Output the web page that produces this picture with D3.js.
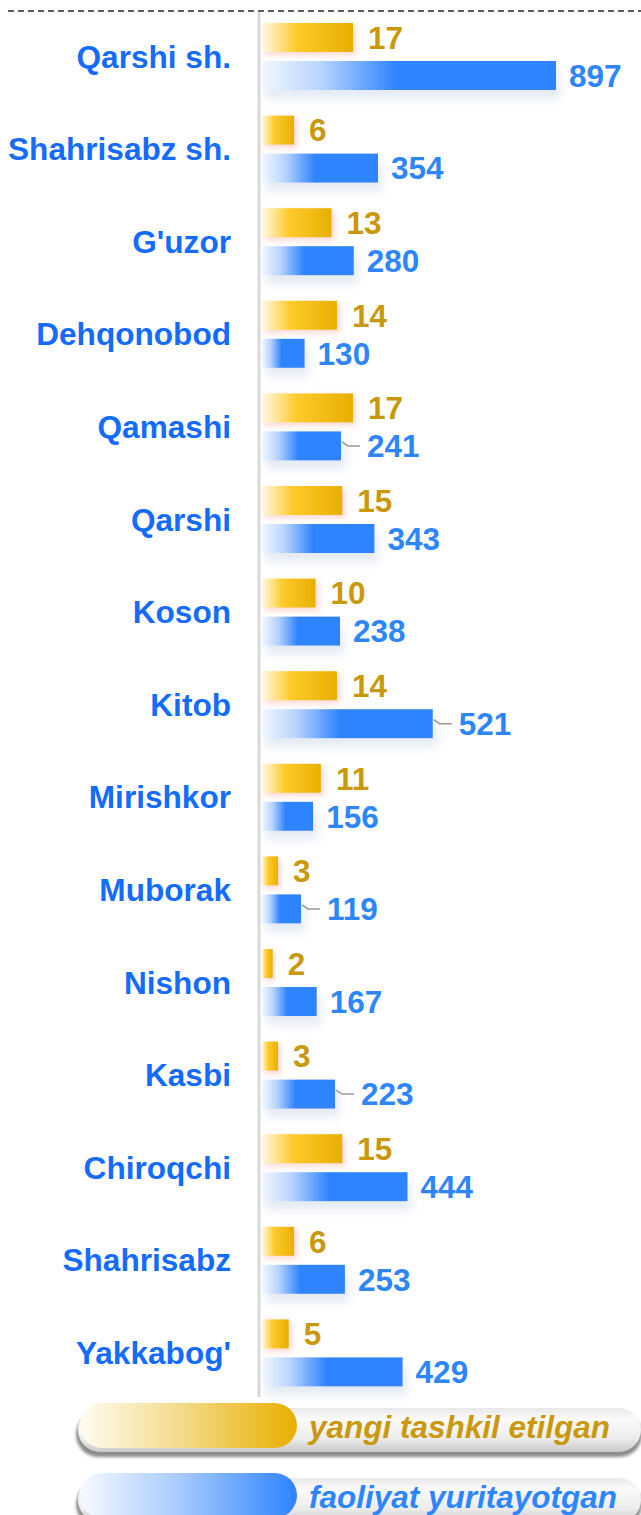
<!DOCTYPE html>
<html>
<head>
<meta charset="utf-8">
<script src="https://cdn.jsdelivr.net/npm/d3@7/dist/d3.min.js"></script>
<style>
  html, body { margin: 0; padding: 0; background: #ffffff; }
  svg { display: block; }
  text { font-family: "Liberation Sans", Arial, sans-serif; font-weight: bold; }
</style>
</head>
<body>
<svg id="chart" width="641" height="1515"></svg>
<script>
// Districts of the region, top to bottom
const categories = [
  "Qarshi sh.", "Shahrisabz sh.", "G'uzor", "Dehqonobod", "Qamashi",
  "Qarshi", "Koson", "Kitob", "Mirishkor", "Muborak",
  "Nishon", "Kasbi", "Chiroqchi", "Shahrisabz", "Yakkabog'"
];

// Newly established
const newValues = [17, 6, 13, 14, 17, 15, 10, 14, 11, 3, 2, 3, 15, 6, 5];

// Currently operating
const activeValues = [897, 354, 280, 130, 241, 343, 238, 521, 156, 119, 167, 223, 444, 253, 429];

// Series names shown in the legend
const seriesNames = ["yangi tashkil etilgan", "faoliyat yuritayotgan"];

// Rows whose value label sits further out, joined by a short leader line
const leaderRows = new Set(["Qamashi", "Kitob", "Muborak", "Kasbi"]);

const rows = categories.map((c, i) => ({ name: c, newV: newValues[i], activeV: activeValues[i] }));

const svg = d3.select("#chart");
const defs = svg.append("defs");

// Horizontal gradients for the two bar kinds
const gYellow = defs.append("linearGradient").attr("id", "gYellow")
  .attr("x1", 0).attr("x2", 1).attr("y1", 0).attr("y2", 0);
gYellow.append("stop").attr("offset", 0).attr("stop-color", "#fff9e6");
gYellow.append("stop").attr("offset", 0.38).attr("stop-color", "#fecb2c");
gYellow.append("stop").attr("offset", 1).attr("stop-color", "#e8af00");

const gBlue = defs.append("linearGradient").attr("id", "gBlue")
  .attr("x1", 0).attr("x2", 1).attr("y1", 0).attr("y2", 0);
gBlue.append("stop").attr("offset", 0).attr("stop-color", "#f2f7ff");
gBlue.append("stop").attr("offset", 0.2).attr("stop-color", "#b8d4ff");
gBlue.append("stop").attr("offset", 0.46).attr("stop-color", "#2e83ff");
gBlue.append("stop").attr("offset", 1).attr("stop-color", "#2e83ff");

// Legend swatch gradients
const lgYellow = defs.append("linearGradient").attr("id", "lgYellow")
  .attr("x1", 0).attr("x2", 1).attr("y1", 0).attr("y2", 0);
lgYellow.append("stop").attr("offset", 0).attr("stop-color", "#fffcf2");
lgYellow.append("stop").attr("offset", 0.45).attr("stop-color", "#f3dc8e");
lgYellow.append("stop").attr("offset", 1).attr("stop-color", "#e8af00");

const lgBlue = defs.append("linearGradient").attr("id", "lgBlue")
  .attr("x1", 0).attr("x2", 1).attr("y1", 0).attr("y2", 0);
lgBlue.append("stop").attr("offset", 0).attr("stop-color", "#f6faff");
lgBlue.append("stop").attr("offset", 0.45).attr("stop-color", "#a9cbff");
lgBlue.append("stop").attr("offset", 1).attr("stop-color", "#2e83ff");

const lgGrey = defs.append("linearGradient").attr("id", "lgGrey")
  .attr("x1", 0).attr("x2", 0).attr("y1", 0).attr("y2", 1);
lgGrey.append("stop").attr("offset", 0).attr("stop-color", "#e8e8e8");
lgGrey.append("stop").attr("offset", 0.25).attr("stop-color", "#fbfbfb");
lgGrey.append("stop").attr("offset", 0.7).attr("stop-color", "#ececec");
lgGrey.append("stop").attr("offset", 1).attr("stop-color", "#c8c8c8");

// Soft shadows under the bars
const fYellow = defs.append("filter").attr("id", "fYellow")
  .attr("x", "-20%").attr("y", "-40%").attr("width", "150%").attr("height", "200%");
fYellow.append("feDropShadow").attr("dx", 3).attr("dy", 3).attr("stdDeviation", 3)
  .attr("flood-color", "#f09a88").attr("flood-opacity", 0.4);

const fBlue = defs.append("filter").attr("id", "fBlue")
  .attr("x", "-20%").attr("y", "-40%").attr("width", "150%").attr("height", "220%");
fBlue.append("feDropShadow").attr("dx", 4).attr("dy", 9).attr("stdDeviation", 5)
  .attr("flood-color", "#b4c6e2").attr("flood-opacity", 0.35);

const fPill = defs.append("filter").attr("id", "fPill")
  .attr("x", "-10%").attr("y", "-30%").attr("width", "120%").attr("height", "170%");
fPill.append("feGaussianBlur").attr("stdDeviation", 1.4);

// Scales
const x0 = 262;
const y = d3.scaleBand().domain(categories).range([18, 18 + categories.length * 92.6]);
const inner = d3.scaleBand().domain(["new", "active"]).range([5, 72]).paddingInner(0.237);
const xNew = d3.scaleLinear().domain([0, d3.max(newValues)]).range([0, 91]);
const xActive = d3.scaleLinear().domain([0, d3.max(activeValues)]).range([0, 294]);

// Dashed rule along the top
svg.append("line")
  .attr("x1", 8).attr("x2", 641).attr("y1", 11).attr("y2", 11)
  .attr("stroke", "#2a2a2a").attr("stroke-width", 1.5)
  .attr("stroke-dasharray", "6 4");

// Vertical baseline
svg.append("line")
  .attr("x1", 259).attr("x2", 259).attr("y1", 12).attr("y2", 1397)
  .attr("stroke", "#d9d9d9").attr("stroke-width", 3);

const row = svg.selectAll("g.row").data(rows).join("g")
  .attr("class", "row")
  .attr("transform", d => `translate(0,${y(d.name)})`);

// Category labels
row.append("text")
  .attr("x", 231)
  .attr("y", (inner("new") + inner("active") + inner.bandwidth()) / 2)
  .attr("dy", "0.35em")
  .attr("text-anchor", "end")
  .attr("font-size", 31.6)
  .attr("fill", "#146cff")
  .text(d => d.name);

// Newly established bars
row.append("rect")
  .attr("x", x0)
  .attr("y", inner("new"))
  .attr("width", d => xNew(d.newV))
  .attr("height", inner.bandwidth())
  .attr("fill", "url(#gYellow)")
  .attr("filter", "url(#fYellow)");

row.append("text")
  .attr("x", d => x0 + xNew(d.newV) + 15)
  .attr("y", inner("new") + inner.bandwidth() / 2)
  .attr("dy", "0.36em")
  .attr("font-size", 31.5)
  .attr("fill", "#c9980b")
  .text(d => d.newV);

// Operating bars
row.append("rect")
  .attr("x", x0)
  .attr("y", inner("active"))
  .attr("width", d => xActive(d.activeV))
  .attr("height", inner.bandwidth())
  .attr("fill", "url(#gBlue)")
  .attr("filter", "url(#fBlue)");

// Leader lines for the labels set further out
row.filter(d => leaderRows.has(d.name)).append("path")
  .attr("d", d => {
    const ex = x0 + xActive(d.activeV);
    const cy = inner("active") + inner.bandwidth() / 2;
    return `M${ex + 1},${cy - 4} L${ex + 7},${cy} L${ex + 19},${cy}`;
  })
  .attr("fill", "none")
  .attr("stroke", "#9a9a9a")
  .attr("stroke-width", 1.5);

row.append("text")
  .attr("x", d => x0 + xActive(d.activeV) + (leaderRows.has(d.name) ? 26 : 13))
  .attr("y", inner("active") + inner.bandwidth() / 2)
  .attr("dy", "0.36em")
  .attr("font-size", 31.5)
  .attr("fill", "#2e86ff")
  .text(d => d.activeV);

// Legend
const legendItems = [
  { name: seriesNames[0], top: 1403, fill: "url(#lgYellow)", color: "#c9980b" },
  { name: seriesNames[1], top: 1473, fill: "url(#lgBlue)", color: "#2e86ff" }
];

const leg = svg.selectAll("g.legend").data(legendItems).join("g")
  .attr("class", "legend")
  .attr("transform", d => `translate(0,${d.top})`);

leg.append("rect")
  .attr("x", 76).attr("y", 9).attr("width", 566).attr("height", 45)
  .attr("rx", 22.5)
  .attr("fill", "#8c8c8c")
  .attr("filter", "url(#fPill)");

leg.append("rect")
  .attr("x", 78).attr("y", 5).attr("width", 563).attr("height", 44)
  .attr("rx", 22)
  .attr("fill", "url(#lgGrey)");

leg.append("rect")
  .attr("x", 80).attr("y", 0).attr("width", 217).attr("height", 45)
  .attr("rx", 22.5)
  .attr("fill", d => d.fill);

leg.append("text")
  .attr("x", 309).attr("y", 35)
  .attr("font-size", 31.5)
  .attr("font-style", "italic")
  .attr("fill", d => d.color)
  .text(d => d.name);
</script>
</body>
</html>
